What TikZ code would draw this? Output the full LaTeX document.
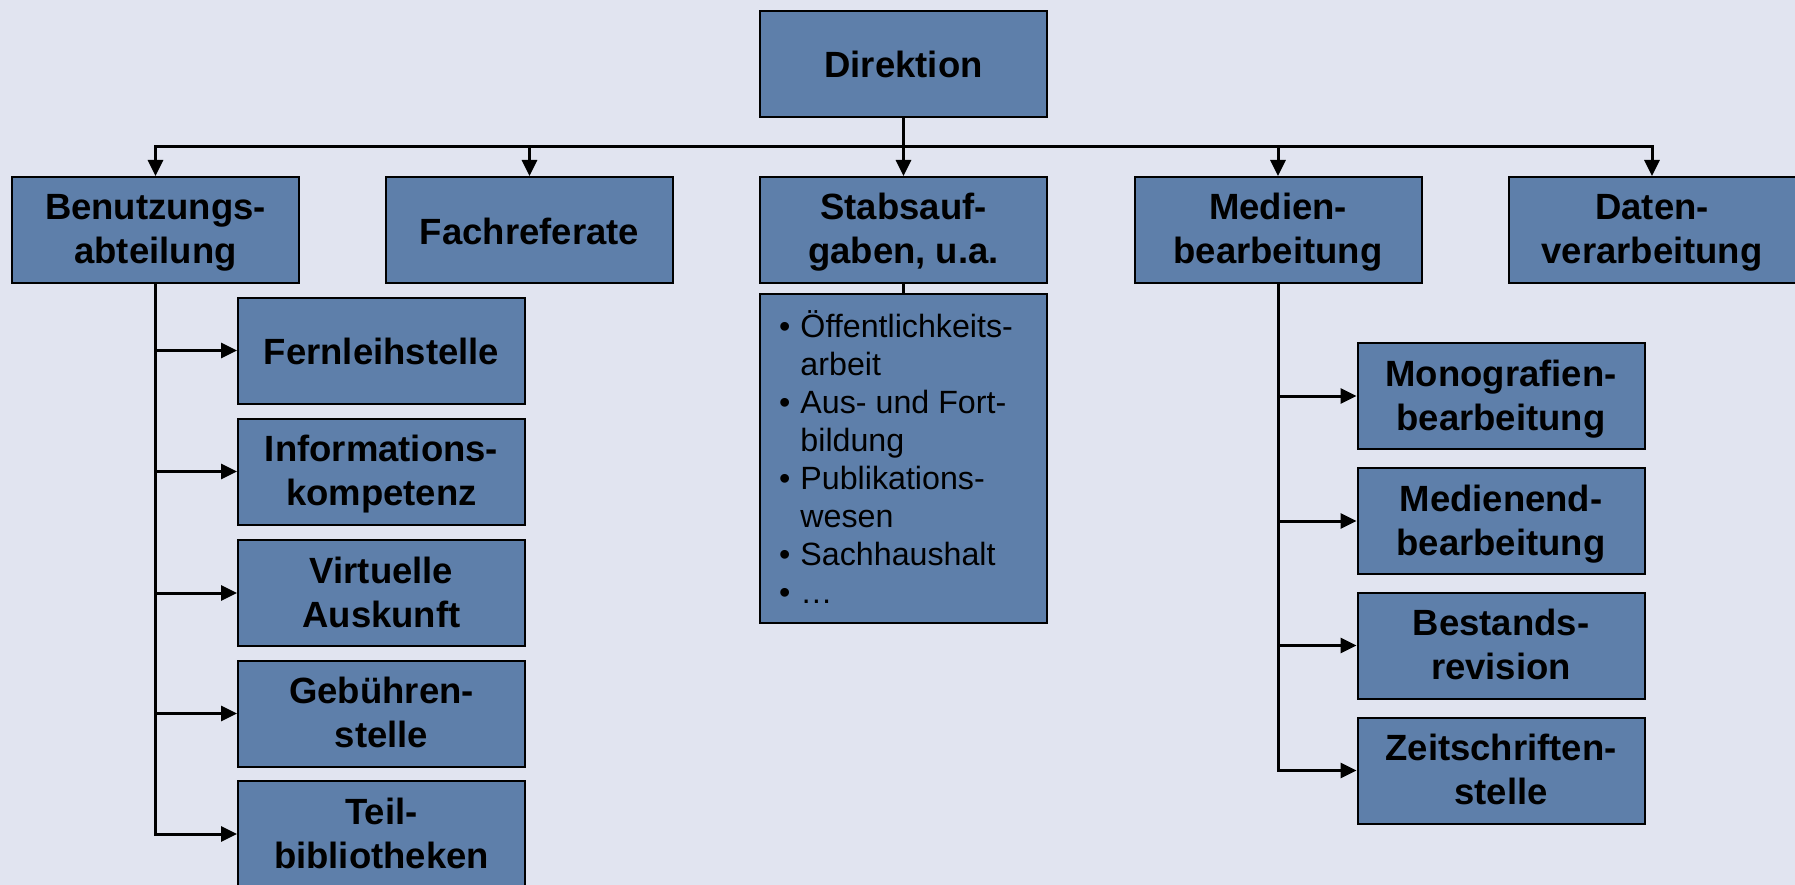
\documentclass[tikz,border=0pt]{standalone}
\usepackage{fontspec}
\setmainfont{Liberation Sans}
\usetikzlibrary{arrows.meta}
\definecolor{bgc}{RGB}{225,228,240}
\definecolor{boxc}{RGB}{94,127,170}
\begin{document}
\begin{tikzpicture}[x=1pt,y=-1pt,
  box/.style={draw=black,line width=2pt,fill=boxc,minimum width=287pt,minimum height=106pt,inner sep=0pt,align=center,font=\fontsize{36.5}{44}\selectfont\bfseries},
  boxone/.style={box,text height=28pt,text depth=0pt},
  boxtwo/.style={box,text height=71pt,text depth=3pt},
  conn/.style={line width=3pt},
  arr/.style={conn,-{Triangle[length=16pt,width=15pt]}}]
\fill[bgc] (0,0) rectangle (1795,885);
\useasboundingbox (0,0) rectangle (1795,885);
% top
\node[boxone] (dir) at (903.5,64) {Direktion};
\node[boxtwo] (ben) at (155.5,230) {Benutzungs-\\abteilung};
\node[boxone] (fach) at (529.5,230) {Fachreferate};
\node[boxtwo] (stab) at (903.5,230) {Stabsauf-\\gaben, u.a.};
\node[boxtwo] (med) at (1278,230) {Medien-\\bearbeitung};
\node[boxtwo] (dat) at (1652,230) {Daten-\\verarbeitung};
% left column
\node[boxone] (fern) at (381.5,350.5) {Fernleihstelle};
\node[boxtwo] (info) at (381.5,471.5) {Informations-\\kompetenz};
\node[boxtwo] (virt) at (381.5,593) {Virtuelle\\Auskunft};
\node[boxtwo] (geb) at (381.5,713.5) {Gebühren-\\stelle};
\node[boxtwo] (teil) at (381.5,834) {Teil-\\bibliotheken};
% right column
\node[boxtwo] (mono) at (1501,396) {Monografien-\\bearbeitung};
\node[boxtwo] (mend) at (1501,521) {Medienend-\\bearbeitung};
\node[boxtwo] (best) at (1501,645.5) {Bestands-\\revision};
\node[boxtwo] (zeit) at (1501,770.5) {Zeitschriften-\\stelle};
% list box
\node[draw=black,line width=2pt,fill=boxc,minimum width=287pt,minimum height=329pt,inner sep=0pt] (list) at (903.5,458.5) {};
\node[anchor=north west,inner sep=0pt,font=\fontsize{32.2}{38}\selectfont,align=left] (listtext) at (779,310.4) {%
\begin{tabular}{@{}l@{\hspace{10pt}}l@{}}
• & Öffentlichkeits-\\
  & arbeit\\
• & Aus- und Fort-\\
  & bildung\\
• & Publikations-\\
  & wesen\\
• & Sachhaushalt\\
• & …
\end{tabular}};
% connectors
\coordinate (bus) at (903.5,147);
\draw[conn] (dir.south) -- (bus);
\foreach \n in {ben,fach,stab,med,dat} \draw[arr] (bus) -| (\n.north);
\foreach \n in {fern,info,virt,geb,teil} \draw[arr] (ben.south) |- (\n.west);
\foreach \n in {mono,mend,best,zeit} \draw[arr] (med.south) |- (\n.west);
\draw[conn] (stab.south) -- (list.north);
\end{tikzpicture}
\end{document}
